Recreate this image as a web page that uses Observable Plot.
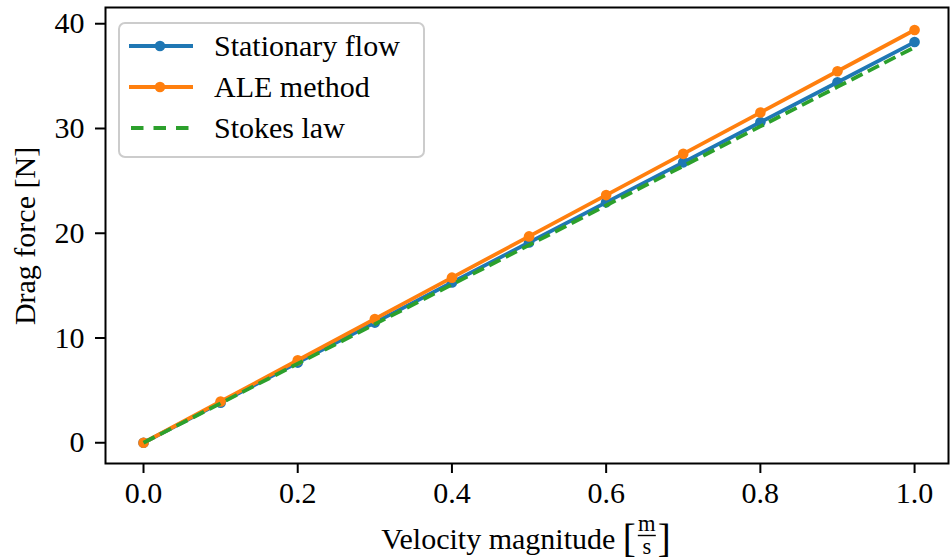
<!DOCTYPE html>
<html>
<head>
<meta charset="utf-8">
<script src="https://cdn.jsdelivr.net/npm/d3@7"></script>
<script src="https://cdn.jsdelivr.net/npm/@observablehq/plot@0.6"></script>
<style>
  html, body { margin: 0; padding: 0; background: white; }
  #chart svg { display: block; }
</style>
</head>
<body>
<div id="chart"></div>
<script>
// ---- data ----
const velocity = [0.0, 0.1, 0.2, 0.3, 0.4, 0.5, 0.6, 0.7, 0.8, 0.9, 1.0];
const stationaryFlow = [0, 3.83, 7.65, 11.47, 15.30, 19.12, 22.95, 26.77, 30.60, 34.42, 38.25];
const aleMethod      = [0, 3.94, 7.88, 11.82, 15.76, 19.70, 23.64, 27.58, 31.52, 35.46, 39.40];
const stokesLaw      = [0, 3.77, 7.55, 11.32, 15.10, 18.87, 22.65, 26.42, 30.20, 33.97, 37.75];
const seriesNames = ["Stationary flow", "ALE method", "Stokes law"];
const seriesColors = ["#1f77b4", "#ff7f0e", "#2ca02c"];
const xTicks = [0.0, 0.2, 0.4, 0.6, 0.8, 1.0];
const yTicks = [0, 10, 20, 30, 40];

const FONT = "'Liberation Serif', 'DejaVu Serif', serif";
const FS = 30;
const LW = 3.8;

const toRows = (vals, name) => velocity.map((v, i) => ({x: v, y: vals[i], series: name}));
const rowsStat = toRows(stationaryFlow, seriesNames[0]);
const rowsAle = toRows(aleMethod, seriesNames[1]);
const rowsStokes = toRows(stokesLaw, seriesNames[2]);

const plot = Plot.plot({
  width: 950,
  height: 559,
  marginLeft: 105,
  marginRight: 2,
  marginTop: 7,
  marginBottom: 96,
  style: {fontFamily: FONT, fontSize: FS + "px", background: "white", color: "black"},
  x: {domain: [-0.0493, 1.044], label: null},
  y: {domain: [-1.98, 41.55], label: null},
  marks: [
    Plot.axisX({ticks: xTicks, tickFormat: d => d.toFixed(1), tickSize: 10, tickPadding: 8, strokeWidth: 2, label: null, fontSize: FS}),
    Plot.axisY({ticks: yTicks, tickFormat: d => String(d), tickSize: 10, tickPadding: 11, strokeWidth: 2, label: null, fontSize: FS}),
    Plot.line(rowsStat, {x: "x", y: "y", stroke: seriesColors[0], strokeWidth: LW}),
    Plot.dot(rowsStat, {x: "x", y: "y", fill: seriesColors[0], r: 5.3}),
    Plot.line(rowsAle, {x: "x", y: "y", stroke: seriesColors[1], strokeWidth: LW}),
    Plot.dot(rowsAle, {x: "x", y: "y", fill: seriesColors[1], r: 5.3}),
    Plot.line(rowsStokes, {x: "x", y: "y", stroke: seriesColors[2], strokeWidth: LW, strokeDasharray: "12.5,6", strokeLinecap: "butt"}),
    Plot.frame({stroke: "black", strokeWidth: 2})
  ]
});

document.getElementById("chart").appendChild(plot);

const svg = d3.select(plot);

// ---- legend ----
const lg = svg.append("g").attr("font-family", FONT).attr("font-size", FS).attr("text-anchor", "start");
lg.append("rect")
  .attr("x", 119).attr("y", 23).attr("width", 305).attr("height", 134)
  .attr("rx", 6).attr("fill", "white").attr("fill-opacity", 0.8)
  .attr("stroke", "#cccccc").attr("stroke-width", 2);
const rowY = [46, 87, 128];
seriesNames.forEach((name, i) => {
  const y = rowY[i];
  const line = lg.append("line")
    .attr("x1", 129).attr("x2", 193).attr("y1", y).attr("y2", y)
    .attr("stroke", seriesColors[i]).attr("stroke-width", LW);
  if (i === 2) {
    line.attr("stroke-dasharray", "12.5,10").attr("x1", 131);
  } else {
    lg.append("circle").attr("cx", 160).attr("cy", y).attr("r", 5.3).attr("fill", seriesColors[i]);
  }
  lg.append("text").attr("x", 214).attr("y", y + 10).attr("fill", "black").text(name);
});

// ---- y label ----
svg.append("text")
  .attr("font-family", FONT).attr("font-size", FS)
  .attr("text-anchor", "middle")
  .attr("transform", "translate(35,236) rotate(-90)")
  .attr("fill", "black")
  .text("Drag force [N]");

// ---- x label with fraction ----
const xl = svg.append("g").attr("font-family", FONT).attr("fill", "black").attr("text-anchor", "start");
const t1 = xl.append("text").attr("font-size", FS).attr("y", 549).text("Velocity magnitude ");
const w1 = t1.node().getComputedTextLength();
const lb = xl.append("text").attr("font-size", FS * 1.3).attr("y", 552).text("[");
const wlb = lb.node().getComputedTextLength();
const fracW = 18;
const rb = xl.append("text").attr("font-size", FS * 1.3).attr("y", 552).text("]");
const wrb = rb.node().getComputedTextLength();
const total = w1 + wlb + 2 + fracW + 2 + wrb;
const x0 = 526 - total / 2;
t1.attr("x", x0);
lb.attr("x", x0 + w1);
const fx = x0 + w1 + wlb + 2;
xl.append("text").attr("font-size", FS * 0.75).attr("x", fx + fracW / 2).attr("y", 531).attr("text-anchor", "middle").text("m");
xl.append("line").attr("x1", fx).attr("x2", fx + fracW).attr("y1", 535.5).attr("y2", 535.5).attr("stroke", "black").attr("stroke-width", 1.4);
xl.append("text").attr("font-size", FS * 0.75).attr("x", fx + fracW / 2).attr("y", 554).attr("text-anchor", "middle").text("s");
rb.attr("x", fx + fracW + 2);
</script>
</body>
</html>
